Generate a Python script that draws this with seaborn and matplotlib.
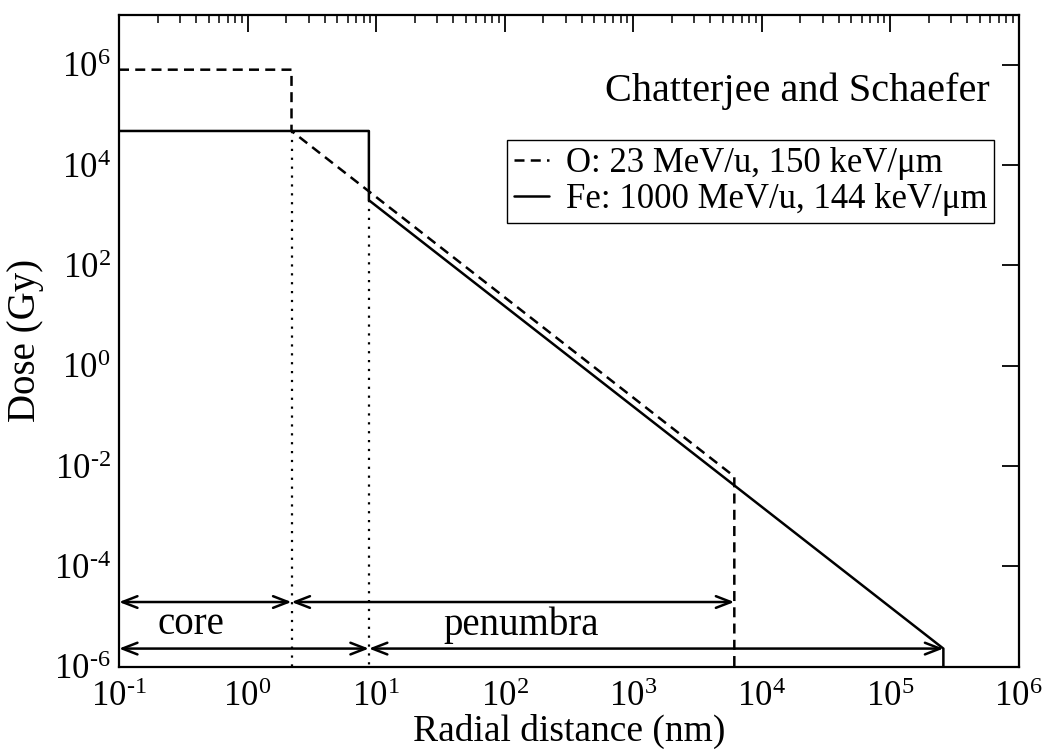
import numpy as np
import pandas as pd
import matplotlib
matplotlib.use("Agg")
import matplotlib.pyplot as plt
import seaborn as sns
from matplotlib.ticker import FixedLocator, LogLocator, NullLocator, FuncFormatter

# ---- data ----
o_label = "O: 23 MeV/u, 150 keV/\u03bcm"
fe_label = "Fe: 1000 MeV/u, 144 keV/\u03bcm"
o_radius = [0.1, 2.2, 2.2, 6140, 6140]          # nm
o_dose = [8.0e5, 8.0e5, 4.8e4, 6.2e-3, 1e-6]     # Gy
fe_radius = [0.1, 8.8, 8.8, 2.6e5, 2.6e5]
fe_dose = [4.8e4, 4.8e4, 2.0e3, 2.3e-6, 1e-6]
core_edges = [2.2, 8.8]
core_edge_dose = [4.8e4, 2.0e3]
arrow_rows = [1.95e-5, 2.3e-6]      # dose level of the arrow rows (O row, Fe row)
x_ticks = [1e-1, 1e0, 1e1, 1e2, 1e3, 1e4, 1e5, 1e6]
y_ticks = [1e-6, 1e-4, 1e-2, 1e0, 1e2, 1e4, 1e6]

df = pd.DataFrame({
    "r": o_radius + fe_radius,
    "dose": o_dose + fe_dose,
    "ion": [o_label] * len(o_radius) + [fe_label] * len(fe_radius),
})

sns.set_theme(style="white")
plt.rcParams["font.family"] = ["Liberation Serif", "DejaVu Serif"]
plt.rcParams["mathtext.fontset"] = "custom"
plt.rcParams["mathtext.rm"] = "Liberation Serif"
plt.rcParams["mathtext.it"] = "Liberation Serif:italic"
plt.rcParams["text.color"] = "black"
plt.rcParams["axes.labelcolor"] = "black"
plt.rcParams["xtick.color"] = "black"
plt.rcParams["ytick.color"] = "black"

fig = plt.figure(figsize=(10.42, 7.52), dpi=100)
ax = fig.add_axes([0.1142, 0.1134, 0.8633, 0.8671])

sns.lineplot(data=df, x="r", y="dose", hue="ion", style="ion",
             palette=["black", "black"],
             dashes={o_label: (4, 2.5), fe_label: ""},
             sort=False, estimator=None, linewidth=1.8, ax=ax)

ax.set_xscale("log")
ax.set_yscale("log")
ax.set_xlim(1e-1, 1e6)
ax.set_ylim(1e-6, 1e7)

# dotted core-boundary lines
for xe, ye in zip(core_edges, core_edge_dose):
    ax.plot([xe, xe], [ye, 1e-6], color="black", linestyle=(0, (1, 3)), linewidth=1.6)

# arrows
aprops = dict(arrowstyle="<->,head_length=0.9,head_width=0.35", color="black",
              lw=1.8, shrinkA=0, shrinkB=0)
ax.annotate("", xy=(o_radius[0], arrow_rows[0]), xytext=(o_radius[1], arrow_rows[0]), arrowprops=aprops)
ax.annotate("", xy=(o_radius[1], arrow_rows[0]), xytext=(o_radius[3], arrow_rows[0]), arrowprops=aprops)
ax.annotate("", xy=(fe_radius[0], arrow_rows[1]), xytext=(fe_radius[1], arrow_rows[1]), arrowprops=aprops)
ax.annotate("", xy=(fe_radius[1], arrow_rows[1]), xytext=(fe_radius[3], arrow_rows[1]), arrowprops=aprops)

ax.text(0.36, 6.8e-6, "core", fontsize=28, ha="center", va="center")
ax.text(135, 6.8e-6, "penumbra", fontsize=28, ha="center", va="center")
ax.text(0.968, 0.882, "Chatterjee and Schaefer", transform=ax.transAxes,
        fontsize=29, ha="right", va="center")

# ticks
def fmt(v, pos):
    e = int(round(np.log10(v)))
    if e < 0:
        return r"$\mathregular{10^{\text{-}%d}}$" % (-e)
    return r"$\mathregular{10^{%d}}$" % e

ax.xaxis.set_major_locator(FixedLocator(x_ticks))
ax.xaxis.set_minor_locator(LogLocator(base=10, subs=np.arange(2, 10), numticks=20))
ax.yaxis.set_major_locator(FixedLocator(y_ticks))
ax.yaxis.set_minor_locator(NullLocator())
ax.xaxis.set_major_formatter(FuncFormatter(fmt))
ax.yaxis.set_major_formatter(FuncFormatter(fmt))
ax.tick_params(which="major", direction="in", length=12, width=1.3, colors="black",
               labelsize=25, top=True, right=True, pad=6)
ax.tick_params(which="minor", direction="in", length=6, width=1.1, top=True, right=True)
ax.tick_params(axis="x", which="major", pad=10)

for s in ax.spines.values():
    s.set_color("black")
    s.set_linewidth(1.6)

ax.set_xlabel("Radial distance (nm)", fontsize=27)
ax.set_ylabel("Dose (Gy)", fontsize=28)
ax.xaxis.set_label_coords(0.5, -0.073)
ax.yaxis.set_label_coords(-0.083, 0.5)

leg = ax.legend(loc="upper right", bbox_to_anchor=(0.973, 0.808), fontsize=25,
                frameon=True, fancybox=False, edgecolor="black", framealpha=1,
                handlelength=1.0, handletextpad=0.5, borderpad=0.2, labelspacing=0.1,
                borderaxespad=0)
leg.get_frame().set_linewidth(1.0)
for h in leg.get_lines():
    h.set_linewidth(1.8)

fig.savefig("out.png", dpi=100)
